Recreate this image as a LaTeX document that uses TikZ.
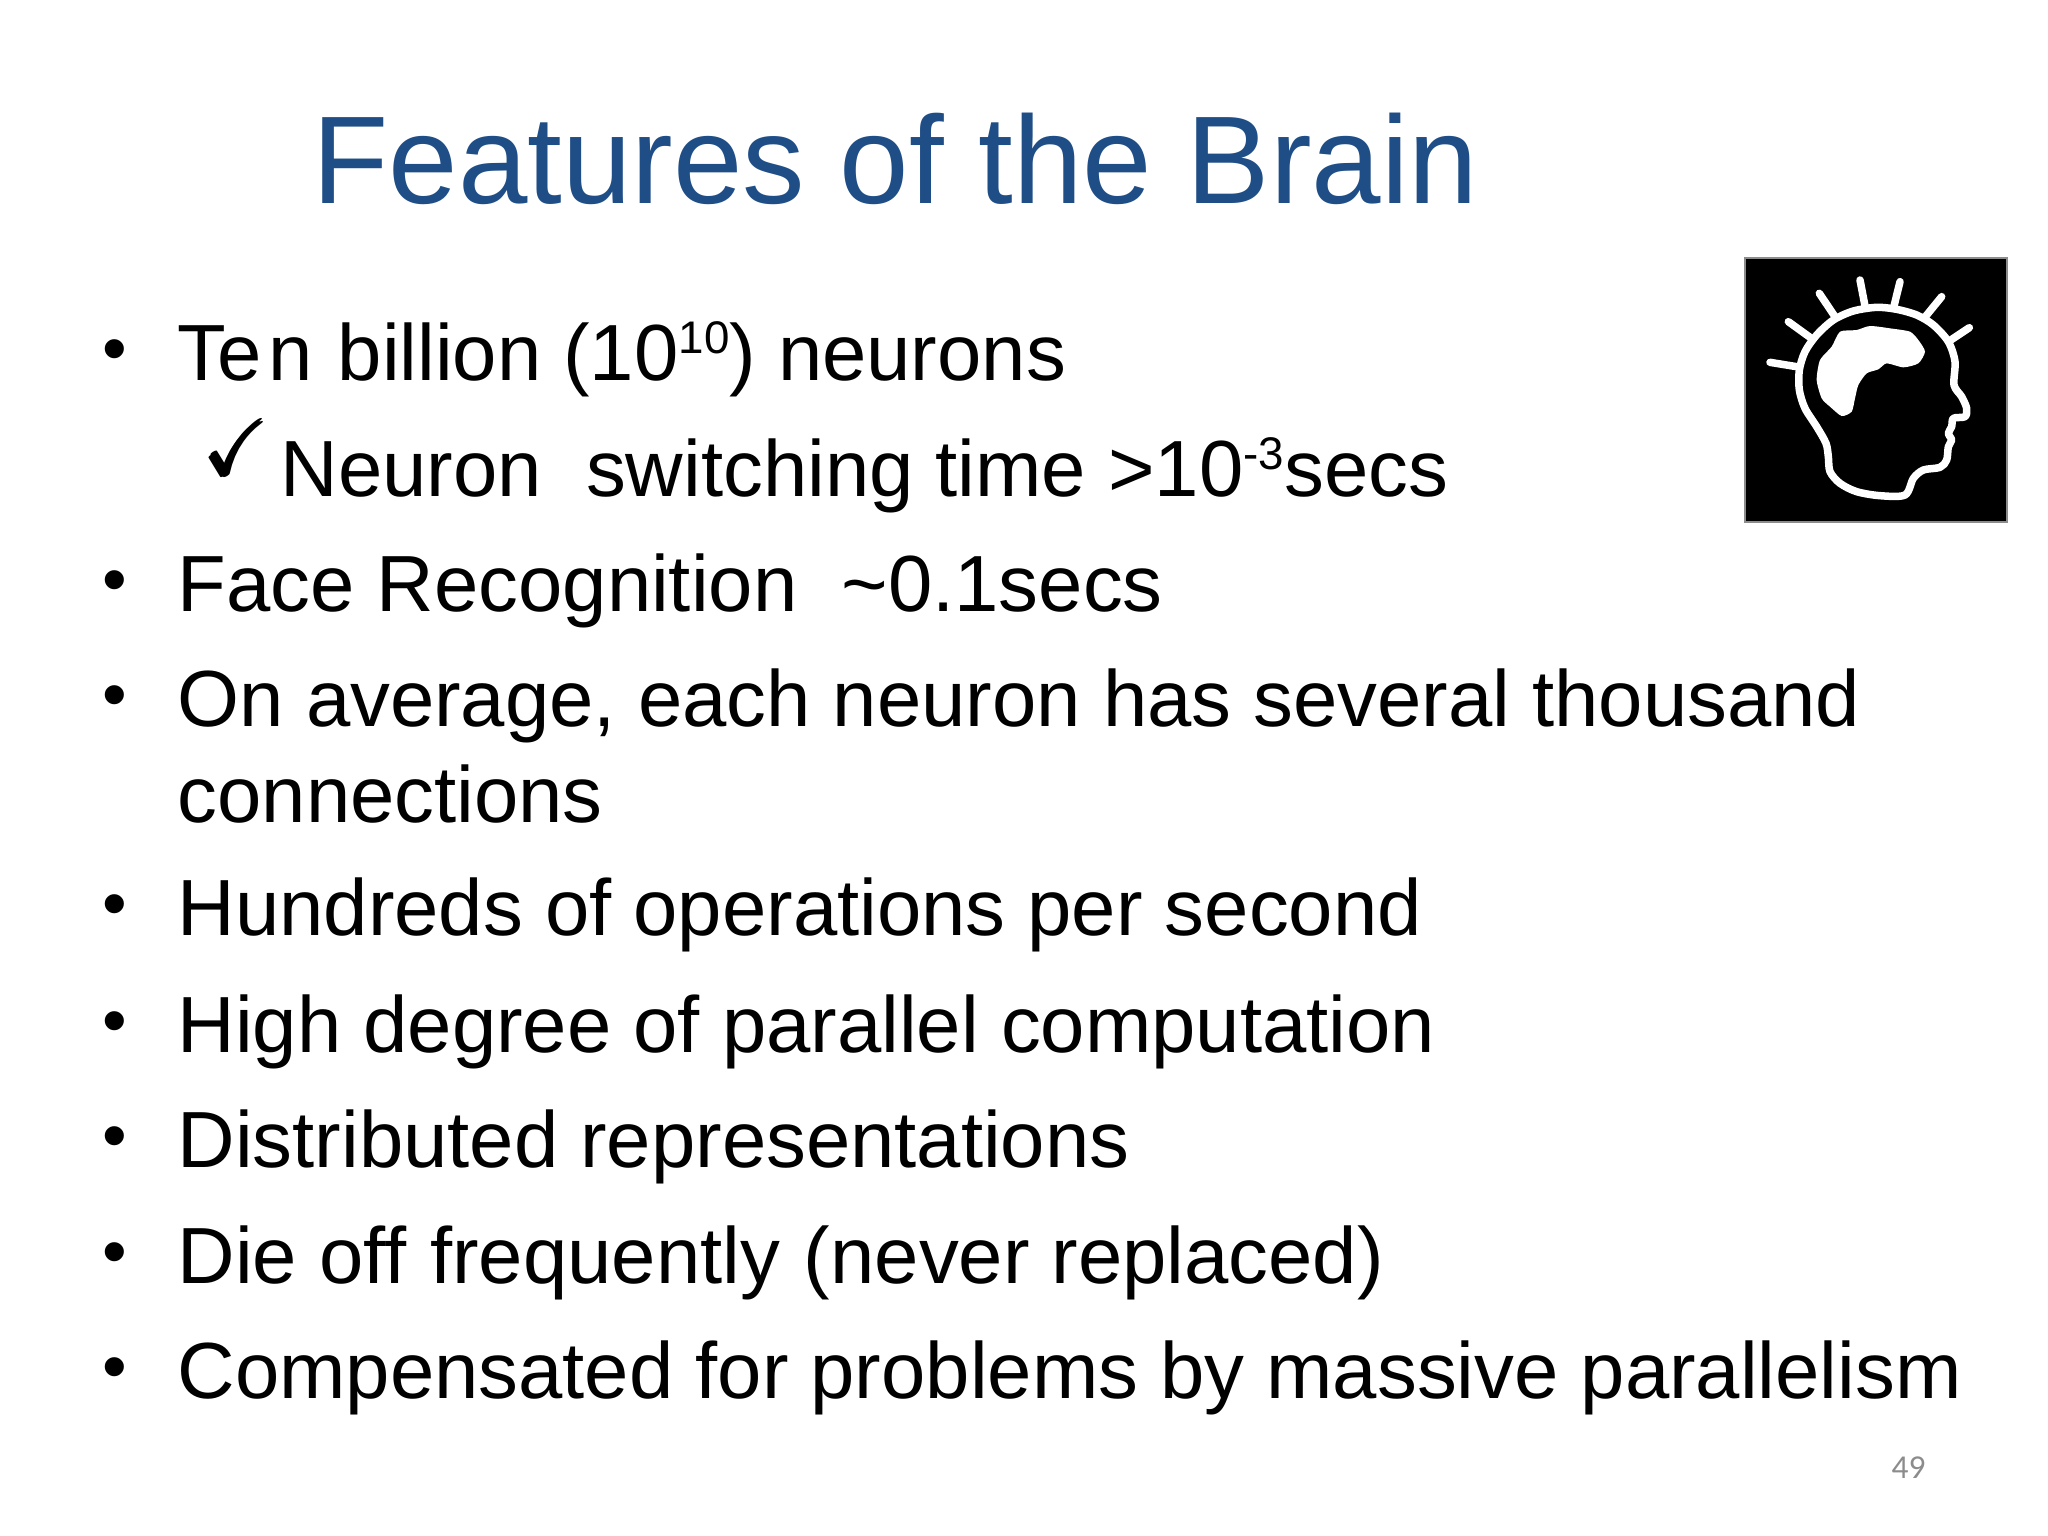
\documentclass[tikz,border=0pt]{standalone}
\usepackage{amsmath,amssymb}
\usepackage{fontspec}
\setmainfont{Liberation Sans}
\newfontfamily\pagefont{Carlito}
\usetikzlibrary{positioning}
\definecolor{titleblue}{HTML}{1F4E87}
\definecolor{pagegray}{HTML}{8C8C8C}
\def\upnum#1{\raisebox{0.33em}{\fontsize{13}{13}\selectfont #1}}
\tikzset{
	bodyline/.style={anchor=base west, inner sep=0pt, font=\fontsize{22.65}{23}\selectfont},
	bulletmark/.style={anchor=base, inner sep=0pt, font=\fontsize{20}{20}\selectfont},
	headline/.style={white, line width=0.075cm, line cap=round, line join=round},
}

\begin{document}
\begin{tikzpicture}[x=0.01cm, y=-0.01cm]
	%%%%% START %%%%%
	\useasboundingbox (0, 0) rectangle (2048, 1536);
	
	\node[anchor=base west, inner sep=0pt, text=titleblue, font=\fontsize{35.5}{36}\selectfont] (title) at (312, 203) {Features of the Brain};
	
	\node[bodyline] (tenbillion) at (177, 380) {Te\kern 1.9pt n\kern 0.8pt\ billion (10\upnum{10}) neurons};
	\node[bodyline] (switching) at (280, 496) {Neuron\ \ switching time >10\upnum{-3}secs};
	\node[bodyline] (face) at (177, 611) {Face Recognition\ \ \textasciitilde0.1secs};
	\node[bodyline] (average) at (177, 726) {On average, each neuron has several thousand};
	\node[bodyline] (connections) at (177, 822) {connections};
	\node[bodyline] (hundreds) at (177, 935) {Hundreds of operations per second};
	\node[bodyline] (parallel) at (177, 1052) {High degree of parallel computation};
	\node[bodyline] (distributed) at (177, 1167) {Distributed representations};
	\node[bodyline] (dieoff) at (177, 1283) {Die of{}f\kern 0.5pt\ frequently\kern 0.5pt\ (never replaced)};
	\node[bodyline] (massive) at (177, 1398) {Compensated for problems by massive parallelism};
	
	\foreach \name/\ypos in {b1/372, b2/603, b3/718, b4/927, b5/1044, b6/1159, b7/1275, b8/1390}
		\node[bulletmark] (\name) at (115, \ypos) {\textbullet};
	\node[anchor=base, inner sep=0pt, font=\fontsize{22}{23}\selectfont] (tick) at (238, 475) {$\pmb{\checkmark}$};
	
	\node[anchor=base west, inner sep=0pt, text=pagegray, font=\pagefont\fontsize{9.5}{10}\selectfont] (pagenum) at (1891, 1478) {49};
	
	%%%%% ICON %%%%%
	\begin{scope}[shift={(1700, 230)}, x=0.01cm/3, y=-0.01cm/3]
		\draw[fill=black, draw=black!45, line width=0.02cm] (135, 85) rectangle (922, 875);
		\draw[headline] plot[smooth cycle, tension=0.5] coordinates {(615,795) (540,797) (470,785) (420,760) (390,725) (385,680) (378,640) (350,590) (315,535) (298,480) (298,420) (315,365) (350,315) (400,270) (460,243) (530,232) (590,238) (650,255) (700,285) (745,335) (765,395) (762,465) (785,500) (800,535) (795,560) (760,565) (755,590) (745,610) (755,630) (745,650) (740,690) (720,712) (670,720) (640,745)};
		\draw[headline] (210, 397) -- (290, 410);
		\draw[headline] (265, 275) -- (330, 322);
		\draw[headline] (358, 190) -- (405, 260);
		\draw[headline] (480, 150) -- (495, 228);
		\draw[headline] (600, 155) -- (582, 228);
		\draw[headline] (725, 200) -- (672, 265);
		\draw[headline] (808, 293) -- (745, 335);
		\fill[white] plot[smooth cycle, tension=0.4] coordinates {(420,305) (470,300) (510,288) (570,295) (630,305) (655,330) (675,365) (655,400) (610,412) (560,400) (535,418) (500,430) (475,465) (465,505) (455,545) (425,558) (390,530) (365,505) (350,450) (360,390) (395,350)};
	\end{scope}
	%%%%% END %%%%%
\end{tikzpicture}
\end{document}
